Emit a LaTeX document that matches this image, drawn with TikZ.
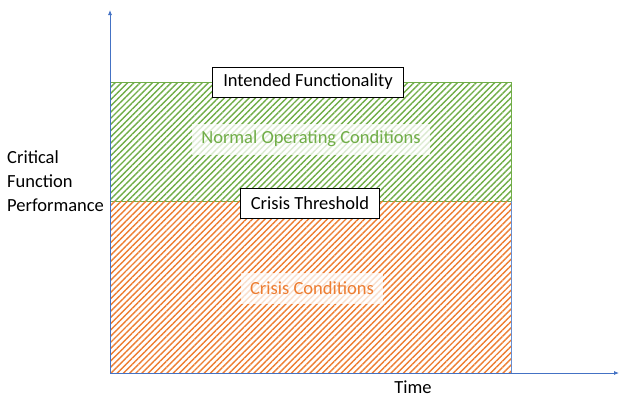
\documentclass[tikz,border=0pt]{standalone}
\usepackage{fontspec}
\setmainfont{Carlito}
\usetikzlibrary{patterns.meta,arrows.meta}
\definecolor{offgreen}{RGB}{112,173,71}
\definecolor{offgreendk}{RGB}{84,130,53}
\definecolor{offorange}{RGB}{237,125,49}
\definecolor{offblue}{RGB}{68,114,196}
\begin{document}
\begin{tikzpicture}[x=1pt,y=-1pt,
  fs/.style={font=\fontsize{18.5}{24}\selectfont},
  lbl/.style={fs,draw=black,fill=white,line width=0.8pt,inner xsep=10.5pt,minimum height=30pt},
  zone/.style={fs,fill=white,fill opacity=0.75,text opacity=1,inner xsep=9pt,minimum height=31pt},
  axis/.style={draw=offblue,line width=0.8pt,-{Latex[length=5pt,width=4pt]}}]
\useasboundingbox (0,0) rectangle (619,397);
% regions
\path[pattern={Lines[angle=45,distance=4.4pt,line width=1.4pt]},pattern color=offgreen] (110,82) rectangle (511,201);
\draw[offgreen,line width=0.9pt] (110,82) rectangle (511,201);
\path[pattern={Lines[angle=45,distance=4.4pt,line width=1.4pt]},pattern color=offorange] (110,201) rectangle (511,373);
\draw[offblue!80,line width=0.7pt] (511,201) -- (511,373) -- (110,373);
% axes
\coordinate (o) at (110,373);
\coordinate (ytop) at (110,10);
\coordinate (xend) at (619,373);
\draw[axis] (o) -- (ytop);
\draw[axis] (o) -- (xend);
% labels
\node[zone,text=offgreen] (normal) at (311,139) {Normal Operating Conditions};
\node[zone,text=offorange] (crisis) at (312,288) {Crisis Conditions};
\node[lbl] (intended) at (308,82) {Intended Functionality};
\node[lbl] (threshold) at (310,203) {Crisis Threshold};
\node[fs,align=left,anchor=west,inner sep=0pt] (cfp) at (7,181) {Critical\\Function\\Performance};
\node[fs,inner sep=0pt] (time) at (413,387) {Time};
\end{tikzpicture}
\end{document}
